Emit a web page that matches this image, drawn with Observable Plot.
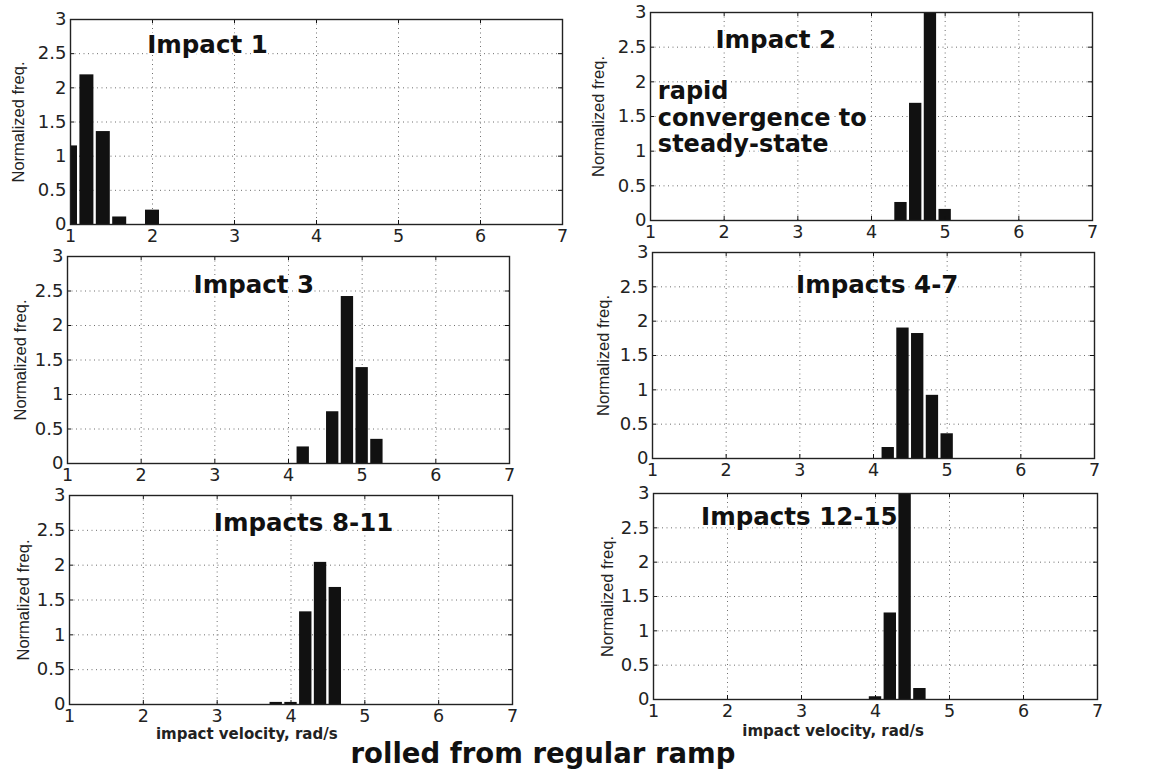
<!DOCTYPE html>
<html><head><meta charset="utf-8">
<script src="https://cdn.jsdelivr.net/npm/d3@7"></script>
<script src="https://cdn.jsdelivr.net/npm/@observablehq/plot@0.6"></script>
<style>
html,body{margin:0;padding:0;background:#fff;}
#root{position:relative;width:1162px;height:772px;overflow:hidden;background:#fff;}
#root svg{position:absolute;overflow:visible;}
</style></head><body><div id="root"></div>
<script>
// ---- data ----
const panelTitles = ["Impact 1", "Impact 2", "Impact 3", "Impacts 4-7", "Impacts 8-11", "Impacts 12-15"];
const binWidth = 0.2;
const binCenters1 = [1.0, 1.2, 1.4, 1.6, 2.0];
const freq1       = [1.15, 2.19, 1.36, 0.11, 0.21];
const binCenters2 = [4.4, 4.6, 4.8, 5.0];
const freq2       = [0.26, 1.69, 3.1, 0.16];
const binCenters3 = [4.2, 4.6, 4.8, 5.0, 5.2];
const freq3       = [0.24, 0.75, 2.42, 1.39, 0.35];
const binCenters4 = [4.2, 4.4, 4.6, 4.8, 5.0];
const freq4       = [0.16, 1.9, 1.82, 0.92, 0.36];
const binCenters5 = [3.8, 4.0, 4.2, 4.4, 4.6];
const freq5       = [0.03, 0.03, 1.33, 2.04, 1.68];
const binCenters6 = [4.0, 4.2, 4.4, 4.6];
const freq6       = [0.04, 1.26, 3.6, 0.16];
const xTicks = [1, 2, 3, 4, 5, 6, 7];
const yTicks = [0, 0.5, 1, 1.5, 2, 2.5, 3];
const yLabel = "Normalized freq.";
const xLabel = "impact velocity, rad/s";
const noteLines = ["rapid", "convergence to", "steady-state"];
const caption = "rolled from regular ramp";

// ---- layout (page pixels of each plot frame, annotation anchors) ----
const layout = [
  {box:{left:70, top:19, right:562, bottom:224}, titleAt:[2.67, 2.63], yLabOff:52},
  {box:{left:650, top:12, right:1092, bottom:220}, titleAt:[2.70, 2.60], yLabOff:52, noteAt:[1.10, 2.02]},
  {box:{left:67, top:256, right:509, bottom:463}, titleAt:[3.53, 2.59], yLabOff:47},
  {box:{left:652, top:252, right:1094, bottom:458}, titleAt:[4.05, 2.52], yLabOff:49},
  {box:{left:69, top:495, right:512, bottom:704}, titleAt:[4.17, 2.60], yLabOff:46, xLabAt:2.17, xLabDy:30},
  {box:{left:653, top:493, right:1097, bottom:699}, titleAt:[2.97, 2.66], yLabOff:46, xLabAt:2.20, xLabDy:32}
];
const centersList = [binCenters1, binCenters2, binCenters3, binCenters4, binCenters5, binCenters6];
const freqList = [freq1, freq2, freq3, freq4, freq5, freq6];

const root = document.getElementById("root");
const M = {l:64, r:24, t:14, b:46};

layout.forEach((L, i) => {
  const pw = L.box.right - L.box.left, ph = L.box.bottom - L.box.top;
  const bars = centersList[i].map((c, j) => ({x1: c - binWidth / 2, x2: c + binWidth / 2, v: freqList[i][j]}));
  const marks = [
    Plot.gridX(xTicks, {stroke: "#555", strokeOpacity: 0.85, strokeDasharray: "1,3.5"}),
    Plot.gridY(yTicks, {stroke: "#555", strokeOpacity: 0.85, strokeDasharray: "1,3.5"}),
    Plot.rect(bars, {x1: "x1", x2: "x2", y1: 0, y2: "v", fill: "#111", insetLeft: 1.2, insetRight: 1.2, clip: true}),
    Plot.ruleX(xTicks, {insetTop: ph - 4, stroke: "#111"}),
    Plot.ruleX(xTicks, {insetBottom: ph - 4, stroke: "#111"}),
    Plot.ruleY(yTicks, {insetRight: pw - 4, stroke: "#111"}),
    Plot.ruleY(yTicks, {insetLeft: pw - 4, stroke: "#111"}),
    Plot.frame({stroke: "#222", strokeWidth: 1.4}),
    Plot.axisX(xTicks, {tickSize: 0, tickPadding: 5, tickFormat: d => String(d), label: null, fontSize: 17.5, fill: "#222"}),
    Plot.axisY(yTicks, {tickSize: 0, tickPadding: 4, tickFormat: d => String(d), label: null, fontSize: 18, fill: "#222"}),
    Plot.text([panelTitles[i]], {x: L.titleAt[0], y: L.titleAt[1], text: d => d, fontSize: 24.5, fontWeight: "bold", fill: "#111", stroke: "white", strokeWidth: 4}),
    Plot.text([yLabel], {frameAnchor: "left", dx: -L.yLabOff, rotate: -90, textAnchor: "middle", lineAnchor: "middle", text: d => d, fontSize: 16.5, fontFamily: "Liberation Sans, Arial, sans-serif", fill: "#222"})
  ];
  if (L.noteAt) {
    marks.push(Plot.text([noteLines.join("\n")], {x: L.noteAt[0], y: L.noteAt[1], text: d => d, textAnchor: "start", lineAnchor: "top", lineHeight: 1.1, fontSize: 24, fontWeight: "bold", fill: "#111", stroke: "white", strokeWidth: 4}));
  }
  if (L.xLabAt !== undefined) {
    marks.push(Plot.text([xLabel], {x: L.xLabAt, frameAnchor: "bottom", dy: L.xLabDy, text: d => d, textAnchor: "start", lineAnchor: "middle", fontSize: 15, fontWeight: "bold", fill: "#222"}));
  }
  const svg = Plot.plot({
    width: pw + M.l + M.r,
    height: ph + M.t + M.b,
    marginLeft: M.l, marginRight: M.r, marginTop: M.t, marginBottom: M.b,
    x: {domain: [1, 7]},
    y: {domain: [0, 3]},
    style: {fontFamily: "DejaVu Sans, sans-serif", background: "transparent", overflow: "visible", maxWidth: "none"},
    marks
  });
  svg.style.left = (L.box.left - M.l) + "px";
  svg.style.top = (L.box.top - M.t) + "px";
  root.appendChild(svg);
});

// caption below the grid
const cap = d3.select(root).append("svg").attr("width", 1162).attr("height", 772)
  .style("left", "0px").style("top", "0px").style("pointer-events", "none");
cap.append("text").attr("x", 543).attr("y", 763).attr("text-anchor", "middle")
  .attr("font-family", "DejaVu Sans, sans-serif").attr("font-weight", "bold").attr("font-size", 27.5)
  .attr("fill", "#111").text(caption);
</script></body></html>
